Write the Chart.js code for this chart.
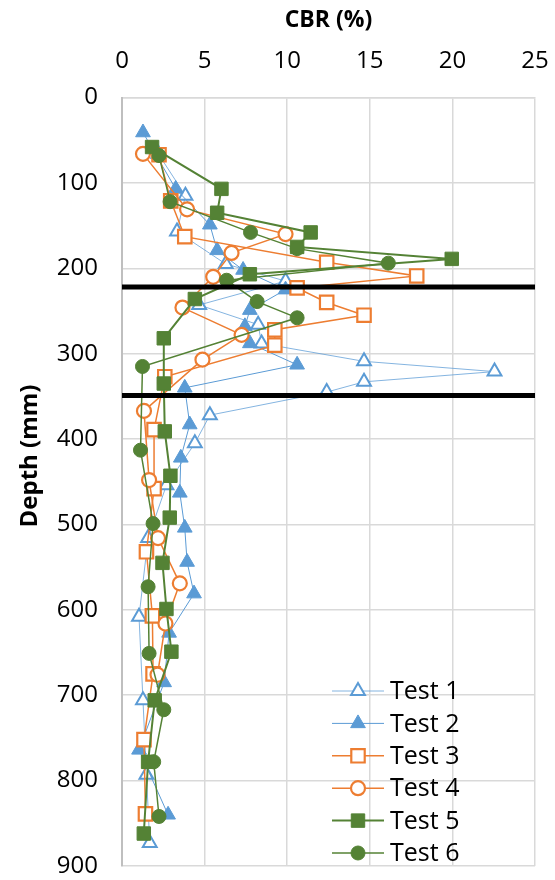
<!DOCTYPE html>
<html>
<head>
<meta charset="utf-8">
<script src="https://cdn.jsdelivr.net/npm/chart.js@4.4.1/dist/chart.umd.min.js"></script>
<style>
html,body{margin:0;padding:0;background:#fff;}
#wrap{position:relative;width:555px;height:880px;}
</style>
</head>
<body>
<div id="wrap"><canvas id="c" width="555" height="880"></canvas></div>
<script>
// ---------- DATA ----------
const seriesNames = ['Test 1', 'Test 2', 'Test 3', 'Test 4', 'Test 5', 'Test 6'];

const test1Depth = [66, 115, 157, 195, 215, 243, 266, 288, 309, 321, 333, 345, 372, 405, 454, 516, 608, 706, 793, 873];
const test1CBR   = [2.2, 3.84, 3.33, 6.28, 9.9, 4.67, 8.24, 8.45, 14.65, 22.55, 14.65, 12.39, 5.32, 4.41, 2.69, 1.58, 1.03, 1.27, 1.48, 1.68];

const test2Depth = [41, 107, 149, 179, 202, 225, 249, 268, 288, 313, 340, 383, 422, 463, 504, 544, 581, 627, 685, 764, 840];
const test2CBR   = [1.27, 3.25, 5.32, 5.76, 7.33, 9.9, 7.74, 7.44, 7.74, 10.6, 3.8, 4.1, 3.56, 3.5, 3.8, 3.94, 4.36, 2.85, 2.55, 1.03, 2.79];

const test3Depth = [67, 121, 163, 193, 209, 223, 240, 255, 272, 290, 327, 389, 458, 532, 607, 675, 752, 839];
const test3CBR   = [2.24, 2.95, 3.8, 12.39, 17.84, 10.6, 12.39, 14.65, 9.25, 9.25, 2.59, 1.94, 1.94, 1.48, 1.84, 1.88, 1.33, 1.42];

const test4Depth = [66, 131, 160, 182, 210, 246, 278, 307, 367, 448, 516, 569, 616, 676];
const test4CBR   = [1.27, 3.94, 9.9, 6.63, 5.52, 3.66, 7.24, 4.87, 1.33, 1.64, 2.18, 3.5, 2.63, 2.15];

const test5Depth = [58, 107, 135, 158, 175, 189, 207, 236, 282, 335, 391, 443, 492, 545, 599, 649, 706, 778, 862];
const test5CBR   = [1.82, 6.02, 5.76, 11.42, 10.6, 19.96, 7.74, 4.41, 2.53, 2.53, 2.59, 2.93, 2.89, 2.45, 2.69, 2.99, 1.98, 1.58, 1.32];

const test6Depth = [68, 122, 158, 177, 194, 214, 239, 258, 315, 413, 499, 573, 651, 717, 778, 842];
const test6CBR   = [2.24, 2.91, 7.78, 10.6, 16.12, 6.33, 8.18, 10.6, 1.24, 1.12, 1.88, 1.58, 1.64, 2.53, 1.92, 2.24];

// layer boundaries (depth, mm) spanning the CBR range
const boundaryDepths = [222, 349];
const boundaryCBRRange = [0, 25];

const xAxisTitle = 'CBR (%)';
const yAxisTitle = 'Depth (mm)';

// ---------- BUILD ----------
const FONT = "'Open Sans', 'Liberation Sans', sans-serif";
const BLUE = '#5B9BD5', ORANGE = '#ED7D31', GREEN = '#548235';

function pts(depths, cbrs) { return depths.map((d, i) => ({ x: cbrs[i], y: d })); }

const styles = [
  { line: 'rgba(91,155,213,0.75)', lw: 1, ps: 'triangle', r: 8, fill: '#FFFFFF', stroke: BLUE, bw: 2 },
  { line: BLUE, lw: 1, ps: 'triangle', r: 8.5, fill: BLUE, stroke: BLUE, bw: 1 },
  { line: ORANGE, lw: 1.5, ps: 'rect', r: 9.5, fill: '#FFFFFF', stroke: ORANGE, bw: 2.2 },
  { line: ORANGE, lw: 1.5, ps: 'circle', r: 7, fill: '#FFFFFF', stroke: ORANGE, bw: 2.2 },
  { line: GREEN, lw: 2, ps: 'rect', r: 9.5, fill: GREEN, stroke: GREEN, bw: 1 },
  { line: GREEN, lw: 1.5, ps: 'circle', r: 7, fill: GREEN, stroke: GREEN, bw: 1 }
];
const allDepths = [test1Depth, test2Depth, test3Depth, test4Depth, test5Depth, test6Depth];
const allCBR = [test1CBR, test2CBR, test3CBR, test4CBR, test5CBR, test6CBR];

const datasets = seriesNames.map((name, i) => ({
  label: name,
  data: pts(allDepths[i], allCBR[i]),
  showLine: true,
  borderColor: styles[i].line,
  borderWidth: styles[i].lw,
  pointStyle: styles[i].ps,
  pointRadius: styles[i].r,
  pointHoverRadius: styles[i].r,
  pointBackgroundColor: styles[i].fill,
  pointBorderColor: styles[i].stroke,
  pointBorderWidth: styles[i].bw,
  tension: 0,
  order: 6 - i,
  legendRow: i
}));

boundaryDepths.forEach((d, k) => {
  datasets.push({
    label: 'boundary' + k,
    data: boundaryCBRRange.map(c => ({ x: c, y: d })),
    showLine: true,
    borderColor: '#000000',
    borderWidth: 5,
    borderCapStyle: 'butt',
    pointRadius: 0,
    pointHoverRadius: 0,
    pointHitRadius: 0,
    order: -1
  });
});

function drawMarker(ctx, style, x, y, r) {
  ctx.beginPath();
  if (style === 'triangle') {
    for (let k = 0; k < 3; k++) {
      const a = k * 2 * Math.PI / 3;
      const px = x + Math.sin(a) * r, py = y - Math.cos(a) * r;
      if (k === 0) ctx.moveTo(px, py); else ctx.lineTo(px, py);
    }
    ctx.closePath();
  } else if (style === 'rect') {
    const s = r * Math.SQRT1_2;
    ctx.rect(x - s, y - s, 2 * s, 2 * s);
  } else {
    ctx.arc(x, y, r, 0, 2 * Math.PI);
  }
  ctx.fill();
  ctx.stroke();
}

const excelLegend = {
  id: 'excelLegend',
  afterDraw(chart, args, opts) {
    const ctx = chart.ctx;
    ctx.save();
    chart.data.datasets.forEach(ds => {
      if (ds.legendRow === undefined) return;
      const y = opts.y0 + ds.legendRow * opts.dy;
      ctx.strokeStyle = ds.borderColor;
      ctx.lineWidth = ds.borderWidth;
      ctx.beginPath();
      ctx.moveTo(opts.x0, y);
      ctx.lineTo(opts.x0 + opts.len, y);
      ctx.stroke();
      ctx.fillStyle = ds.pointBackgroundColor;
      ctx.strokeStyle = ds.pointBorderColor;
      ctx.lineWidth = ds.pointBorderWidth;
      drawMarker(ctx, ds.pointStyle, opts.x0 + opts.len / 2, y, ds.pointRadius);
      ctx.fillStyle = '#000';
      ctx.font = opts.font;
      ctx.textAlign = 'left';
      ctx.textBaseline = 'middle';
      ctx.fillText(ds.label, opts.textX, y + 1);
    });
    ctx.restore();
  }
};

// vertical axis title placed like the original (left of the tick labels)
const yTitlePlugin = {
  id: 'yTitle',
  afterDraw(chart, args, opts) {
    const ctx = chart.ctx;
    ctx.save();
    ctx.translate(opts.x, opts.y);
    ctx.rotate(-Math.PI / 2);
    ctx.font = opts.font;
    ctx.fillStyle = '#000';
    ctx.textAlign = 'center';
    ctx.textBaseline = 'middle';
    ctx.fillText(opts.text, 0, 0);
    ctx.restore();
  }
};

const tickFont = { family: FONT, size: 24 };
const titleFont = { family: FONT, size: 23, weight: 'bold' };

new Chart(document.getElementById('c'), {
  type: 'scatter',
  data: { datasets },
  plugins: [excelLegend, yTitlePlugin],
  options: {
    responsive: false,
    devicePixelRatio: 1,
    animation: false,
    layout: { padding: { top: 0, left: 0, right: 20, bottom: 14 } },
    plugins: {
      legend: { display: false },
      tooltip: { enabled: false },
      excelLegend: { x0: 332, len: 52, textX: 390, y0: 691, dy: 32.4, font: "25px 'Open Sans', sans-serif" },
      yTitle: { text: yAxisTitle, x: 30, y: 456, font: "bold 24px 'Open Sans', sans-serif" }
    },
    scales: {
      x: {
        type: 'linear', position: 'top', min: 0, max: 25,
        ticks: { stepSize: 5, font: tickFont, color: '#000', padding: 22, maxRotation: 0 },
        grid: { color: '#D9D9D9', lineWidth: 1.5, drawTicks: false },
        border: { color: '#D9D9D9', width: 1.5 },
        title: { display: true, text: xAxisTitle, font: titleFont, color: '#000', padding: { top: 7, bottom: 0 } },
        afterFit(s) { s.height = 97.5; s.paddingLeft = 0; s.paddingRight = 0; }
      },
      y: {
        type: 'linear', position: 'left', min: 0, max: 900, reverse: true,
        ticks: { stepSize: 100, font: tickFont, color: '#000', padding: 24 },
        grid: { color: '#D9D9D9', lineWidth: 1.5, drawTicks: false },
        border: { color: '#BFBFBF', width: 2 },
        title: { display: false },
        afterFit(s) { s.width = 122; s.paddingTop = 0; s.paddingBottom = 0; }
      }
    }
  }
});
</script>
</body>
</html>
